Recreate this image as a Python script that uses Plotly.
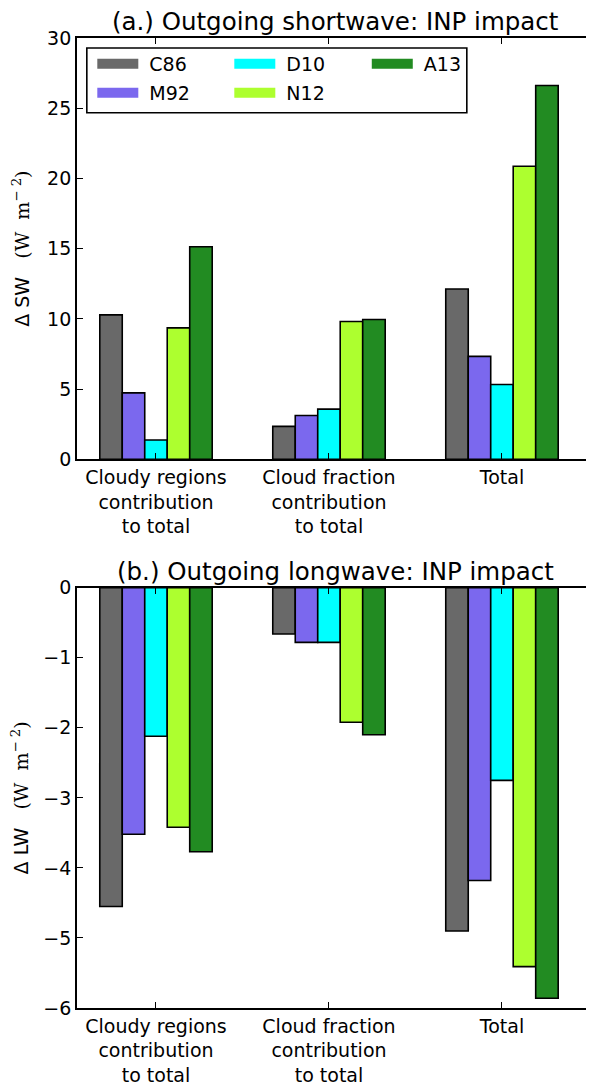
import plotly.graph_objects as go

# ---- data ----
categories = ["Cloudy regions<br>contribution<br>to total",
              "Cloud fraction<br>contribution<br>to total",
              "Total"]
schemes = ["C86", "M92", "D10", "N12", "A13"]
colors = ["#696969", "#7B68EE", "#00FFFF", "#ADFF2F", "#228B22"]

sw_C86 = [10.28, 2.34, 12.13]
sw_M92 = [4.73, 3.12, 7.33]
sw_D10 = [1.37, 3.57, 5.32]
sw_N12 = [9.36, 9.81, 20.87]
sw_A13 = [15.13, 9.95, 26.62]

lw_C86 = [-4.55, -0.66, -4.90]
lw_M92 = [-3.52, -0.78, -4.18]
lw_D10 = [-2.12, -0.78, -2.75]
lw_N12 = [-3.42, -1.92, -5.41]
lw_A13 = [-3.77, -2.10, -5.86]

sw_values = [sw_C86, sw_M92, sw_D10, sw_N12, sw_A13]
lw_values = [lw_C86, lw_M92, lw_D10, lw_N12, lw_A13]

sw_ticks = [0, 5, 10, 15, 20, 25, 30]
lw_ticks = [0, -1, -2, -3, -4, -5, -6]

FONT = "DejaVu Sans"
fig = go.Figure()

for name, col, sw, lw in zip(schemes, colors, sw_values, lw_values):
    fig.add_trace(go.Bar(x=categories, y=sw, name=name, marker=dict(color=col, line=dict(color="black", width=1.6)),
                         xaxis="x", yaxis="y", showlegend=False))
    fig.add_trace(go.Bar(x=categories, y=lw, name=name, marker=dict(color=col, line=dict(color="black", width=1.6)),
                         xaxis="x2", yaxis="y2", showlegend=False))

# legend entries (one legend per entry to mimic the 3x2 column layout)
legend_ids = ["legend", "legend2", "legend3", "legend4", "legend5"]
legend_pos = [(0.0296, 0.9733), (0.0296, 0.9435), (0.2946, 0.9733), (0.2946, 0.9435), (0.5605, 0.9733)]
for name, col, lid in zip(schemes, colors, legend_ids):
    fig.add_trace(go.Scatter(x=[None], y=[None], mode="lines", name="\u00a0" + name,
                             line=dict(color=col, width=15), legend=lid, xaxis="x", yaxis="y"))

axis_common = dict(showline=True, linecolor="black", linewidth=1.8, ticks="inside", ticklen=6,
                   tickwidth=1, tickcolor="black", showgrid=False, zeroline=False,
                   tickfont=dict(family=FONT, size=19, color="black"))

xrange = [-0.4566, 2.532]
top_dom = [0.5657, 1.0]
bot_dom = [0.0, 0.4333]

ylab_unit = "<span style='font-family:DejaVu Serif'>(W\u00a0\u00a0m<sup>\u2212\u00a02</sup>)</span>"

layout = dict(
    width=586, height=1078,
    margin=dict(l=69, r=0, t=30, b=74),
    paper_bgcolor="white", plot_bgcolor="white",
    barmode="group", bargap=0.35, bargroupgap=0.0,
    font=dict(family=FONT, size=19, color="black"),
    xaxis=dict(domain=[0, 1], anchor="y", type="category", range=xrange, mirror="ticks", **axis_common),
    xaxis2=dict(domain=[0, 1], anchor="y2", type="category", range=xrange, mirror="ticks", **axis_common),
    yaxis=dict(domain=top_dom, anchor="x", range=[0, 30], tickvals=sw_ticks,
               title=dict(text="Δ SW\u00a0\u00a0\u00a0" + ylab_unit, font=dict(family=FONT, size=19), standoff=12),
               **axis_common),
    yaxis2=dict(domain=bot_dom, anchor="x2", range=[-6, 0], tickvals=lw_ticks,
                title=dict(text="Δ LW\u00a0\u00a0\u00a0" + ylab_unit, font=dict(family=FONT, size=19), standoff=12),
                **axis_common),
    yaxis3=dict(overlaying="y", anchor="x", side="right", range=[0, 30], tickvals=sw_ticks,
                showticklabels=False, showline=False, ticks="inside", ticklen=6, tickcolor="black",
                showgrid=False, zeroline=False),
    yaxis4=dict(overlaying="y2", anchor="x2", side="right", range=[-6, 0], tickvals=lw_ticks,
                showticklabels=False, showline=False, ticks="inside", ticklen=6, tickcolor="black",
                showgrid=False, zeroline=False),
    shapes=[dict(type="rect", xref="paper", yref="paper", x0=0.019, x1=0.754, y0=0.923, y1=0.9897,
                 line=dict(color="black", width=1.6), fillcolor="white", layer="above")],
    annotations=[
        dict(text="(a.) Outgoing shortwave: INP impact", xref="paper", yref="paper", x=0.5, y=1.0,
             yanchor="bottom", yshift=1, borderpad=0, showarrow=False, font=dict(family=FONT, size=24.5)),
        dict(text="(b.) Outgoing longwave: INP impact", xref="paper", yref="paper", x=0.5, y=bot_dom[1],
             yanchor="bottom", yshift=1, borderpad=0, showarrow=False, font=dict(family=FONT, size=24.5)),
    ],
)
for lid, (lx, ly) in zip(legend_ids, legend_pos):
    layout[lid] = dict(x=lx, y=ly, xanchor="left", yanchor="middle", bgcolor="rgba(0,0,0,0)",
                       borderwidth=0, itemwidth=41, font=dict(family=FONT, size=19, color="black"))

fig.update_layout(**layout)
fig.write_html("out.html")
